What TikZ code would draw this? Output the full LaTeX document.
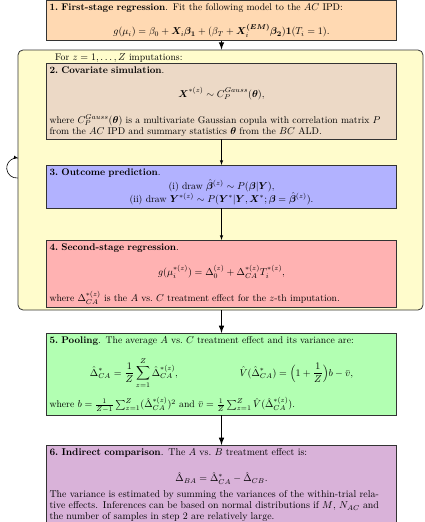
\documentclass[tikz,border=0pt]{standalone}
\usepackage{amsmath}
\usepackage{amssymb}
\usepackage{bm}
\usetikzlibrary{arrows}
\usetikzlibrary{arrows, calc, fit, backgrounds}

% centred formula inside a step box: space above, space below, formula
\newcommand{\stageeq}[3]{\par\vspace{#1}{\centering$\displaystyle #3$\par}\vspace{#2}}

\tikzset{
  stage/.style={draw=black!80, line width=0.6pt, rectangle, anchor=north,
    text width=344pt, inner xsep=3pt, inner ysep=3pt,
    font=\fontsize{9.7pt}{11pt}\selectfont,
    execute at begin node={\setlength{\parindent}{0pt}\setlength{\rightskip}{6pt}}},
  loopbox/.style={draw=black!80, line width=0.8pt, fill=yellow!20,
    rounded corners=5pt, inner sep=0pt},
  flow/.style={-latex, line width=0.6pt},
  bigflow/.style={-latex, line width=1.5pt}
}

\begin{document}
\begin{tikzpicture}[x=1pt,y=1pt]
    \useasboundingbox (0,0) rectangle (424,-522);

    % steps of the method
    \node[stage, fill=orange!30] (first) at (221.5,0)
      {\textbf{1.\ First-stage regression}. Fit the following model to the $AC$ IPD:
       \stageeq{11pt}{2pt}{g(\mu_i) = \beta_0 + \bm{X}_i\bm{\beta_1} + (\beta_T + \bm{X}_i^{\bm{(EM)}}\bm{\beta_2})\mathbf{1}(T_i=1).}};

    \node[stage, fill=brown!30] (cov) at (221.5,-63)
      {\textbf{2.\ Covariate simulation}.
       \stageeq{13pt}{15pt}{\bm{X}^{*(z)} \sim C_P^{Gauss}(\bm{\theta}),}
       where $C_P^{Gauss}(\bm{\theta})$ is a multivariate Gaussian copula with correlation matrix $P$
       from the $AC$ IPD and summary statistics $\bm{\theta}$ from the $BC$ ALD.\par\vspace{8pt}};

    \node[stage, fill=blue!30] (outcome) at (221.5,-165)
      {\textbf{3.\ Outcome prediction}.\par\vspace{2pt}
       {\centering (i) draw $\hat{\bm{\beta}}^{(z)} \sim P(\bm{\beta}|\bm{Y})$,\\
       (ii) draw $\bm{Y}^{*(z)} \sim P(\bm{Y}^*|\bm{Y}, \bm{X}^*; \bm{\beta} = \hat{\bm{\beta}}^{(z)})$.\par}\vspace{1pt}};

    \node[stage, fill=red!30] (second) at (221.5,-240)
      {\textbf{4.\ Second-stage regression}.
       \stageeq{12pt}{12pt}{g(\mu_i^{*(z)}) = \Delta_0^{(z)} + \Delta_{CA}^{*(z)}T_i^{*(z)},}
       where $\Delta_{CA}^{*(z)}$ is the $A$ vs.\ $C$ treatment effect for the $z$-th imputation.\par\vspace{1pt}};

    \node[stage, fill=green!30] (pool) at (221.5,-333)
      {\textbf{5.\ Pooling}. The average $A$ vs.\ $C$ treatment effect and its variance are:
       \stageeq{12pt}{8pt}{\hat{\Delta}^*_{CA} = \frac{1}{Z}\sum_{z=1}^{Z}\hat{\Delta}_{CA}^{*(z)}, \hspace{60pt}
          \hat{V}(\hat{\Delta}^*_{CA}) = \Big(1+\frac{1}{Z}\Big)b - \bar{v},}
       where $b=\frac{1}{Z-1}\sum_{z=1}^{Z}(\hat{\Delta}_{CA}^{*(z)})^2$ and
       $\bar{v}=\frac{1}{Z}\sum_{z=1}^{Z}\hat{V}(\hat{\Delta}_{CA}^{*(z)})$.};

    \node[stage, fill=violet!30] (indirect) at (221.5,-445)
      {\fontsize{9.9pt}{11pt}\selectfont\setlength{\rightskip}{11pt}%
       \textbf{6.\ Indirect comparison}. The $A$ vs.\ $B$ treatment effect is:
       \stageeq{14pt}{5pt}{\hat{\Delta}_{BA} = \hat{\Delta}^*_{CA} - \hat{\Delta}_{CB}.}
       The variance is estimated by summing the variances of the within-trial relative effects.
       Inferences can be based on normal distributions if $M$, $N_{AC}$ and the number of
       samples in step 2 are relatively large.};

    % imputation loop
    \coordinate (loopnw) at (18,-50);
    \coordinate (loopse) at (423,-310);
    \begin{scope}[on background layer]
      \node[loopbox, fit=(loopnw)(loopse)] (loop) {};
    \end{scope}
    \node[anchor=base west, inner sep=0pt, font=\fontsize{9.7pt}{11pt}\selectfont] (forz) at (55,-60)
      {For $z=1,\ldots,Z$ imputations:};
    \draw[flow] ($(loop.west |- outcome.north)+(0,-13)$) arc[start angle=-85, end angle=-280, radius=10];

    % arrows
    \draw[bigflow] (first) -- (first |- loop.north);
    \draw[flow] (cov) -- (outcome);
    \draw[flow] (outcome) -- (second);
    \draw[bigflow] (loop.south -| pool.north) -- (pool);
    \draw[bigflow] (pool) -- (indirect);
\end{tikzpicture}
\end{document}
